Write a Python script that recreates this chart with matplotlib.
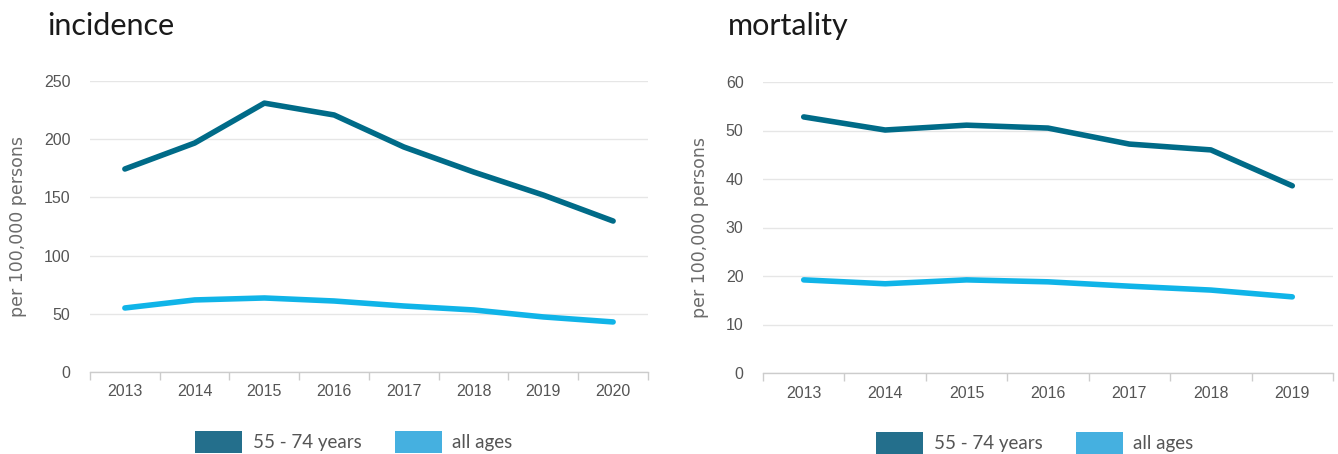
import matplotlib
matplotlib.use("Agg")
import matplotlib.pyplot as plt
from matplotlib.patches import Patch
import numpy as np

years_inc = ["2013", "2014", "2015", "2016", "2017", "2018", "2019", "2020"]
inc_55_74 = [174.4, 196.7, 231.0, 220.8, 193.3, 171.8, 152.0, 129.7]
inc_all = [55.0, 61.9, 63.6, 61.0, 56.7, 53.3, 47.3, 43.0]

years_mort = ["2013", "2014", "2015", "2016", "2017", "2018", "2019"]
mort_55_74 = [52.8, 50.1, 51.1, 50.5, 47.2, 46.0, 38.6]
mort_all = [19.2, 18.4, 19.2, 18.8, 17.9, 17.1, 15.7]

titles = ["incidence", "mortality"]
series_names = ["55 - 74 years", "all ages"]
ylabel = "per 100,000 persons"

DARK = "#006b88"
LIGHT = "#10b4e8"
LEG_DARK = "#246f8c"
LEG_LIGHT = "#45b0e0"

plt.rcParams["font.family"] = ["Liberation Sans", "DejaVu Sans"]

W, H = 1338, 454
fig = plt.figure(figsize=(W / 100, H / 100), dpi=100)

def ax_rect(x0, y0, x1, y1):
    return [x0 / W, 1 - y1 / H, (x1 - x0) / W, (y1 - y0) / H]

panels = [
    (ax_rect(90, 81, 648, 372), years_inc, inc_55_74, inc_all, 250, 50, 47, 0.473),
    (ax_rect(763, 82, 1333, 373), years_mort, mort_55_74, mort_all, 60, 10, 728, 0.477),
]

for i, (rect, years, s1, s2, ymax, step, tx, lx) in enumerate(panels):
    ax = fig.add_axes(rect)
    x = np.arange(len(years))
    ax.plot(x, s1, color=DARK, lw=4, solid_capstyle="round", solid_joinstyle="round", zorder=3)
    ax.plot(x, s2, color=LIGHT, lw=4, solid_capstyle="round", solid_joinstyle="round", zorder=3)
    ax.set_xlim(-0.5, len(years) - 0.5)
    ax.set_ylim(0, ymax)
    ax.set_yticks(np.arange(0, ymax + step / 2, step))
    ax.set_xticks(x)
    ax.set_xticklabels(years)
    ax.set_xticks(np.arange(-0.5, len(years)), minor=True)
    ax.tick_params(axis="x", which="major", length=0, pad=9, labelsize=11.5, labelcolor="#555555")
    ax.tick_params(axis="x", which="minor", length=6, color="#cccccc", width=1)
    ax.tick_params(axis="y", length=0, pad=14, labelsize=11.5, labelcolor="#555555")
    ax.grid(axis="y", color="#e6e6e6", lw=1)
    ax.set_axisbelow(True)
    for s in ["top", "right", "left"]:
        ax.spines[s].set_visible(False)
    ax.spines["bottom"].set_color("#cccccc")
    ax.spines["bottom"].set_linewidth(1)
    ax.set_ylabel(ylabel, fontsize=12.5, color="#6b6b6b", family="DejaVu Sans", labelpad=12)
    fig.text(tx / W, 1 - 35 / H, titles[i], fontsize=22, family="Lato", color="#1a1a1a",
             ha="left", va="baseline")
    handles = [Patch(facecolor=LEG_DARK, edgecolor="none"), Patch(facecolor=LEG_LIGHT, edgecolor="none")]
    ax.legend(handles, series_names, loc="center", bbox_to_anchor=(lx, -0.24),
              ncol=2, frameon=False, handlelength=2.5, handleheight=1.45,
              columnspacing=1.8, handletextpad=0.55,
              prop={"family": "Lato", "size": 13.5}, labelcolor="#555555")

fig.savefig("out.png", dpi=100, facecolor="white")
